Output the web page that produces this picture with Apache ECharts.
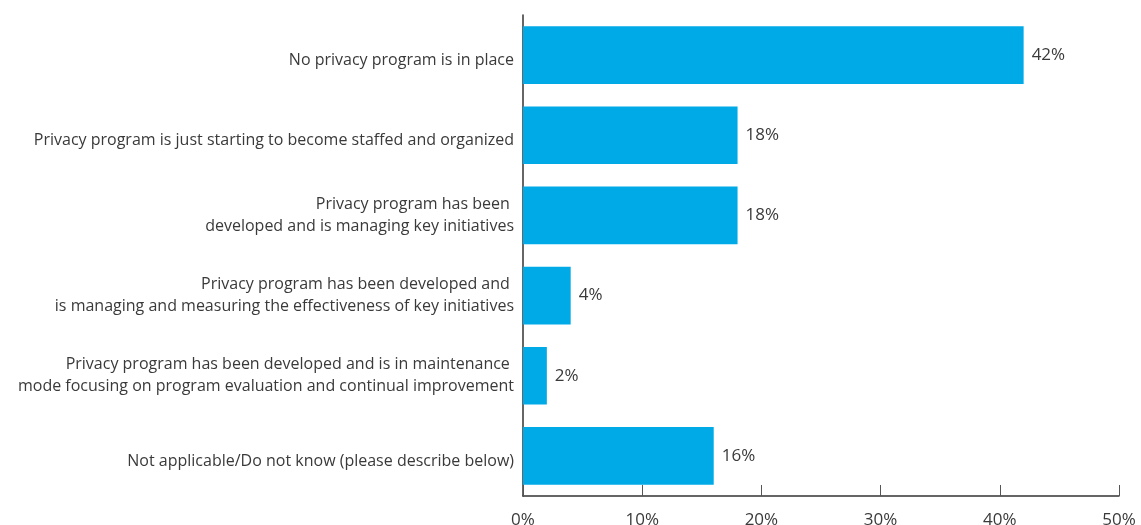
<!DOCTYPE html>
<html>
<head>
<meta charset="utf-8">
<script src="https://cdn.jsdelivr.net/npm/echarts@6/dist/echarts.min.js"></script>
<style>
html,body{margin:0;padding:0;background:#fff;}
#chart{width:1141px;height:525px;}
</style>
</head>
<body>
<div id="chart"></div>
<script>
var categories = [
  "No privacy program is in place",
  "Privacy program is just starting to become staffed and organized",
  "Privacy program has been \ndeveloped and is managing key initiatives",
  "Privacy program has been developed and \nis managing and measuring the effectiveness of key initiatives",
  "Privacy program has been developed and is in maintenance \nmode focusing on program evaluation and continual improvement",
  "Not applicable/Do not know (please describe below)"
];
var values = [42, 18, 18, 4, 2, 16];
var xTicks = [0, 10, 20, 30, 40, 50];

var chart = echarts.init(document.getElementById('chart'));
var textColor = '#3a3a3a';
var font = 'Open Sans';
chart.setOption({
  animation: false,
  grid: {left: 523, right: 22, top: 15, bottom: 29, containLabel: false, outerBoundsMode: 'none'},
  xAxis: {
    type: 'value', min: xTicks[0], max: xTicks[xTicks.length - 1], interval: 10,
    axisLine: {show: true, lineStyle: {color: '#333', width: 1.5}},
    axisTick: {show: true, inside: true, length: 11, lineStyle: {color: '#555', width: 1}},
    splitLine: {show: false},
    axisLabel: {formatter: '{value}%', color: textColor, fontSize: 17, fontFamily: font, margin: 16}
  },
  yAxis: {
    type: 'category', inverse: true, data: categories,
    axisLine: {show: true, lineStyle: {color: '#333', width: 1.5}},
    axisTick: {show: false},
    axisLabel: {
      color: textColor, fontSize: 16, fontFamily: font, margin: 9, align: 'right', lineHeight: 22,
      formatter: function (v) { return v.indexOf('\n') < 0 ? '{s|' + v + '}' : v; },
      rich: {s: {color: textColor, fontSize: 16, fontFamily: font, padding: [11, 0, 0, 0], lineHeight: 22}}
    }
  },
  series: [{
    type: 'bar', data: values, barCategoryGap: '28%',
    itemStyle: {color: '#00AAE7'},
    label: {show: true, position: 'right', distance: 8, formatter: '{c}%', color: textColor, fontSize: 17, fontFamily: font}
  }]
});
</script>
</body>
</html>
